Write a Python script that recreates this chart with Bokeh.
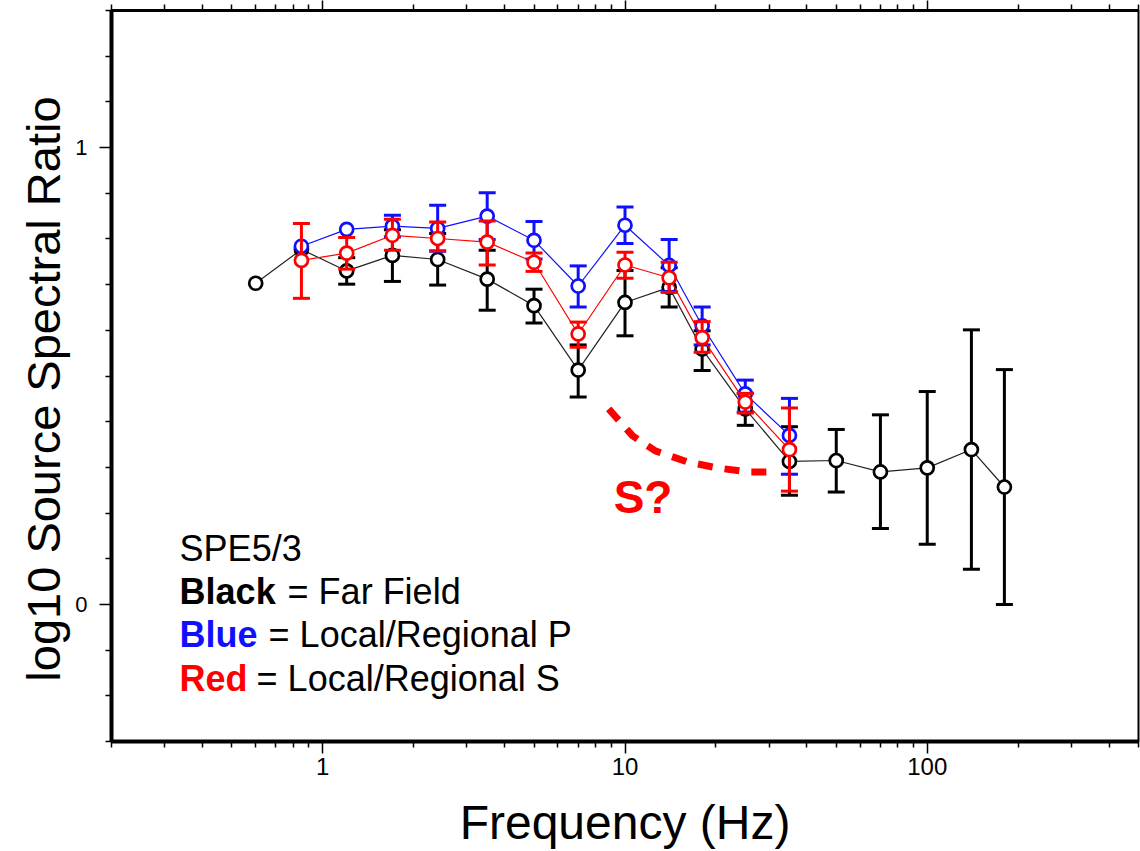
from bokeh.plotting import figure
from bokeh.models import FixedTicker, LogAxis, Label, Range1d, PrintfTickFormatter
from bokeh.embed import file_html
from bokeh.resources import INLINE

# ---------------- data ----------------
freq_black = [0.6, 0.85, 1.2, 1.7, 2.4, 3.5, 5, 7, 10, 14, 18, 25, 35, 50, 70, 100, 140, 180]
black_val = [0.703, 0.777, 0.730, 0.764, 0.755, 0.712, 0.654, 0.513, 0.661, 0.694,
             0.559, 0.428, 0.313, 0.315, 0.290, 0.299, 0.339, 0.257]
black_lo = [None, None, 0.701, 0.707, 0.699, 0.644, 0.616, 0.454, 0.588, 0.651,
            0.512, 0.392, 0.239, 0.246, 0.166, 0.132, 0.077, 0.000]
black_hi = [None, None, 0.759, 0.820, 0.812, 0.775, 0.690, 0.568, 0.731, 0.737,
            0.599, 0.462, 0.389, 0.383, 0.415, 0.466, 0.601, 0.514]

freq_local = [0.85, 1.2, 1.7, 2.4, 3.5, 5, 7, 10, 14, 18, 25, 35]
blue_val = [0.784, 0.821, 0.828, 0.823, 0.850, 0.797, 0.697, 0.830, 0.742, 0.610, 0.461, 0.370]
blue_lo = [None, None, 0.804, 0.773, 0.799, 0.756, 0.651, 0.790, 0.685, 0.568, 0.421, 0.285]
blue_hi = [None, None, 0.852, 0.874, 0.901, 0.838, 0.741, 0.870, 0.799, 0.651, 0.491, 0.451]

red_val = [0.753, 0.769, 0.808, 0.801, 0.793, 0.749, 0.592, 0.743, 0.715, 0.584, 0.443, 0.339]
red_lo = [0.670, 0.734, 0.775, 0.774, 0.743, 0.729, 0.563, 0.714, 0.683, 0.552, 0.419, 0.248]
red_hi = [0.834, 0.803, 0.843, 0.837, 0.839, 0.769, 0.618, 0.771, 0.749, 0.619, 0.462, 0.430]

# hand-drawn "S?" dashed curve (annotation)
s_curve_x = [8.83, 10.6, 12.6, 16.1, 20.1, 25.5, 29.5]
s_curve_y = [0.428, 0.369, 0.336, 0.312, 0.299, 0.290, 0.290]

x_major = [1, 10, 100]
x_minor = [0.2, 0.3, 0.4, 0.5, 0.6, 0.7, 0.8, 0.9,
           2, 3, 4, 5, 6, 7, 8, 9,
           20, 30, 40, 50, 60, 70, 80, 90,
           200, 300, 400, 500]
y_major = [0, 1]
y_minor = [-0.3, -0.2, -0.1, 0.1, 0.2, 0.3, 0.4, 0.5, 0.6, 0.7, 0.8, 0.9, 1.1, 1.2, 1.3]

FONT = "Liberation Sans"

p = figure(width=1140, height=851, x_axis_type="log",
           x_range=Range1d(0.2, 500), y_range=Range1d(-0.3, 1.3),
           output_backend="svg", toolbar_location=None,
           min_border_left=111, min_border_right=2, min_border_top=10,
           min_border_bottom=107)
p.grid.visible = False
p.outline_line_color = "black"
p.outline_line_width = 2
p.background_fill_color = "white"
p.border_fill_color = "white"

xa = p.xaxis[0]
xa.ticker = FixedTicker(ticks=x_major, minor_ticks=x_minor)
xa.formatter = PrintfTickFormatter(format="%d")
xa.axis_line_width = 4
xa.major_tick_out = 12
xa.major_tick_in = 0
xa.minor_tick_out = 6
xa.minor_tick_in = 0
xa.major_tick_line_width = 1.5
xa.minor_tick_line_width = 1.5
xa.major_label_text_font = FONT
xa.major_label_text_font_size = "24px"
xa.major_label_text_color = "black"
xa.major_label_standoff = 4
xa.axis_label = "Frequency (Hz)"
xa.axis_label_text_font = FONT
xa.axis_label_text_font_size = "48px"
xa.axis_label_text_font_style = "normal"
xa.axis_label_text_color = "black"
xa.axis_label_standoff = 18

ya = p.yaxis[0]
ya.ticker = FixedTicker(ticks=y_major, minor_ticks=y_minor)
ya.formatter = PrintfTickFormatter(format="%d")
ya.axis_line_width = 4
ya.major_tick_out = 12
ya.major_tick_in = 0
ya.minor_tick_out = 6
ya.minor_tick_in = 0
ya.major_tick_line_width = 1.5
ya.minor_tick_line_width = 1.5
ya.major_label_text_font = FONT
ya.major_label_text_font_size = "22px"
ya.major_label_text_color = "black"
ya.major_label_standoff = 12
ya.axis_label = "log10 Source Spectral Ratio\u00a0\u00a0"
ya.axis_label_text_font = FONT
ya.axis_label_text_font_size = "47px"
ya.axis_label_text_font_style = "normal"
ya.axis_label_text_color = "black"
ya.axis_label_standoff = 2

top = LogAxis(ticker=FixedTicker(ticks=x_major, minor_ticks=x_minor),
              major_label_text_font_size="1px", major_label_text_alpha=0,
              major_label_standoff=0,
              axis_line_width=3, major_tick_out=10, major_tick_in=0,
              minor_tick_out=6, minor_tick_in=0,
              major_tick_line_width=1.5, minor_tick_line_width=1.5)
p.add_layout(top, "above")


def draw_series(freq, val, lo, hi, color, line_color):
    p.line(freq, val, line_color=line_color, line_width=1.2)
    bx = [f for f, a, b in zip(freq, lo, hi) if a is not None]
    blo = [a for a in lo if a is not None]
    bhi = [b for b in hi if b is not None]
    if bx:
        p.segment(x0=bx, y0=blo, x1=bx, y1=bhi, line_color=color, line_width=3)
        p.scatter(bx, blo, marker="dash", size=17, line_color=color, line_width=3)
        p.scatter(bx, bhi, marker="dash", size=17, line_color=color, line_width=3)
    p.scatter(freq, val, marker="circle", size=13, line_color=color,
              line_width=2.7, fill_color="white")


draw_series(freq_black, black_val, black_lo, black_hi, "black", "#222222")
draw_series(freq_local, blue_val, blue_lo, blue_hi, "#1010ff", "#1010ff")
draw_series(freq_local, red_val, red_lo, red_hi, "#ff0000", "#ff0000")

# "S?" annotation
p.line(s_curve_x, s_curve_y, line_color="#ff0000", line_width=7, line_dash="15 12")
p.add_layout(Label(x=9.17, y=0.236, text="S?", text_font=FONT, text_font_size="46px",
                   text_font_style="bold", text_color="#ff0000",
                   text_baseline="alphabetic"))

# legend text
LX = 0.336
p.add_layout(Label(x=LX, y=0.122, text="SPE5/3", text_font=FONT, text_font_size="36px",
                   text_color="black", text_baseline="alphabetic"))
rows = [(0.028, "Black", "black", "= Far Field", 108),
        (-0.066, "Blue", "#1010ff", "= Local/Regional P", 89),
        (-0.162, "Red", "#ff0000", "= Local/Regional S", 77)]
for yy, word, col, rest, off in rows:
    p.add_layout(Label(x=LX, y=yy, text=word, text_font=FONT, text_font_size="36px",
                       text_font_style="bold", text_color=col, text_baseline="alphabetic"))
    p.add_layout(Label(x=LX, y=yy, x_offset=off, text=rest, text_font=FONT,
                       text_font_size="36px", text_color="black",
                       text_baseline="alphabetic"))

open("out.html", "w").write(file_html(p, INLINE))
